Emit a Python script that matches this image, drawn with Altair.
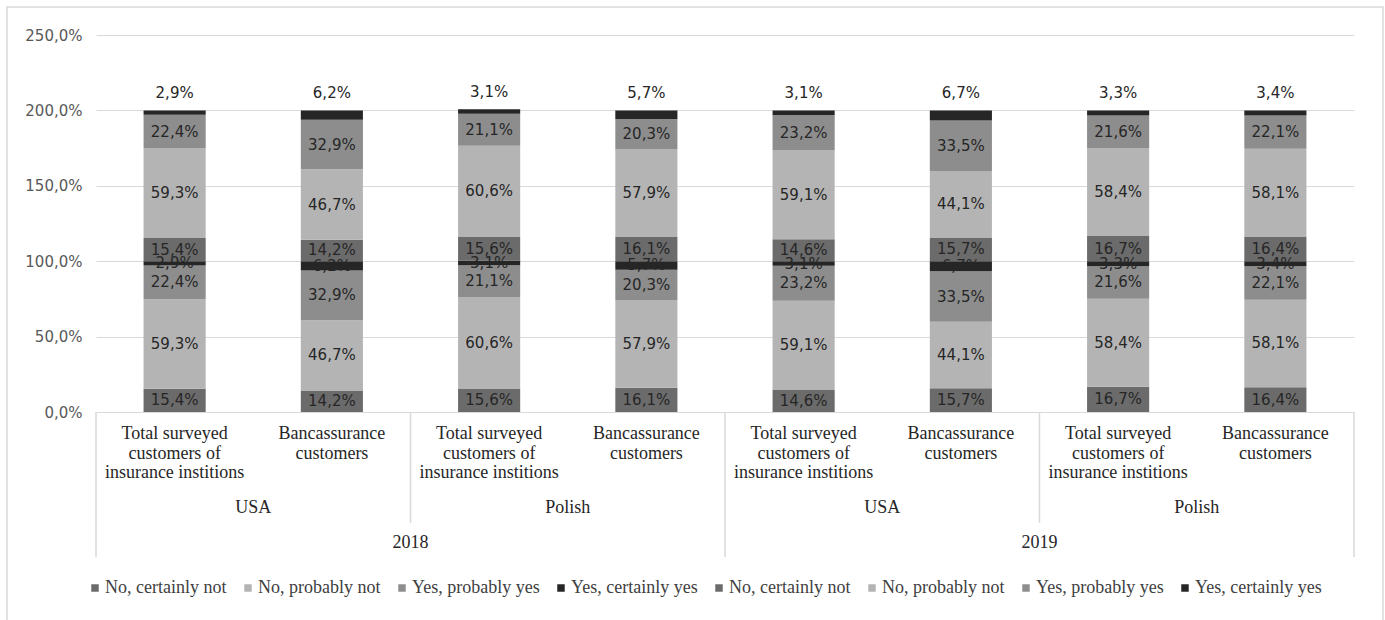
import altair as alt
import pandas as pd

# ---- data ----
bar_ids = ["b1", "b2", "b3", "b4", "b5", "b6", "b7", "b8"]
bar_labels = [
    "Total surveyed\ncustomers of\ninsurance institions",
    "Bancassurance\ncustomers",
    "Total surveyed\ncustomers of\ninsurance institions",
    "Bancassurance\ncustomers",
    "Total surveyed\ncustomers of\ninsurance institions",
    "Bancassurance\ncustomers",
    "Total surveyed\ncustomers of\ninsurance institions",
    "Bancassurance\ncustomers",
]
countries = ["USA", "Polish", "USA", "Polish"]
years = ["2018", "2019"]

series_names = ["No, certainly not", "No, probably not", "Yes, probably yes", "Yes, certainly yes"]
no_certainly = [15.4, 14.2, 15.6, 16.1, 14.6, 15.7, 16.7, 16.4]
no_probably = [59.3, 46.7, 60.6, 57.9, 59.1, 44.1, 58.4, 58.1]
yes_probably = [22.4, 32.9, 21.1, 20.3, 23.2, 33.5, 21.6, 22.1]
yes_certainly = [2.9, 6.2, 3.1, 5.7, 3.1, 6.7, 3.3, 3.4]
series_values = [no_certainly, no_probably, yes_probably, yes_certainly]
colors = ["#6b6b6b", "#b4b4b4", "#8d8d8d", "#262626"]

# ---- long table (two identical series sets stacked, as in the source) ----
rows = []
keys = []
for k in range(2):
    for j, name in enumerate(series_names):
        keys.append(f"{k * 4 + j + 1}|{name}")
for i, b in enumerate(bar_ids):
    for k in range(2):
        for j, name in enumerate(series_names):
            rows.append({
                "bar": b,
                "key": f"{k * 4 + j + 1}|{name}",
                "order": k * 4 + j,
                "value": series_values[j][i],
            })
df = pd.DataFrame(rows)

cat_df = pd.DataFrame({"bar": bar_ids, "label": bar_labels})
country_df = pd.DataFrame({"name": countries, "pos": [2 * i + 1 for i in range(len(countries))]})
year_df = pd.DataFrame({"name": years, "pos": [4 * i + 2 for i in range(len(years))]})
inner_div = pd.DataFrame({"pos": [2, 6]})
outer_div = pd.DataFrame({"pos": [0, 4, 8]})

W, H = 1258, 377
SANS = "DejaVu Sans"
SERIF = "Liberation Serif"
GRID = "#d9d9d9"

band = alt.Scale(domain=bar_ids, paddingInner=0.605, paddingOuter=0.3025)
xq = alt.Scale(domain=[0, 8], nice=False, zero=False)
yscale = alt.Scale(domain=[0, 250], nice=False)

label_expr = "replace(format(datum.value, '.1f'), '.', ',') + '%'"

bars = alt.Chart(df).mark_bar().encode(
    x=alt.X("bar:N", scale=band, axis=None),
    y=alt.Y("value:Q", stack="zero", scale=yscale,
            axis=alt.Axis(values=[0, 50, 100, 150, 200, 250], title=None,
                          labelExpr="replace(format(datum.value, '.1f'), '.', ',') + '%'",
                          grid=True, gridColor=GRID, domain=False, ticks=False,
                          labelFont=SANS, labelFontSize=15, labelColor="#595959",
                          labelPadding=14)),
    color=alt.Color("key:N", scale=alt.Scale(domain=keys, range=colors * 2),
                    legend=alt.Legend(orient="none", legendX=-10, legendY=544,
                                      direction="horizontal", columns=8, title=None,
                                      labelExpr="split(datum.value, '|')[1]",
                                      symbolType="square", symbolSize=56,
                                      symbolStrokeWidth=0, labelFont=SERIF,
                                      labelFontSize=18, labelColor="#404040",
                                      columnPadding=12, labelOffset=1, padding=0)),
    order=alt.Order("order:Q"),
)

stacked = alt.Chart(df).transform_stack(
    stack="value", groupby=["bar"], as_=["y0", "y1"],
    sort=[alt.SortField("order", order="ascending")]
).transform_calculate(
    mid="(datum.y0 + datum.y1) / 2",
    txt=label_expr,
)

inner_labels = stacked.transform_filter("datum.order != 7").mark_text(
    font=SANS, fontSize=15, color="#262626", baseline="middle"
).encode(
    x=alt.X("bar:N", scale=band, axis=None),
    y=alt.Y("mid:Q", scale=yscale),
    text="txt:N",
)

top_labels = stacked.transform_filter("datum.order == 7").mark_text(
    font=SANS, fontSize=15, color="#262626", baseline="middle", dy=-17
).encode(
    x=alt.X("bar:N", scale=band, axis=None),
    y=alt.Y("y1:Q", scale=yscale),
    text="txt:N",
)

cat_text = alt.Chart(cat_df).mark_text(
    font=SERIF, fontSize=18, color="#262626", baseline="top", lineBreak="\n",
    lineHeight=19.5, align="center"
).encode(
    x=alt.X("bar:N", scale=band, axis=None),
    y=alt.value(H + 13),
    text="label:N",
)

country_text = alt.Chart(country_df).mark_text(
    font=SERIF, fontSize=18, color="#262626", baseline="middle"
).encode(
    x=alt.X("pos:Q", scale=xq, axis=None),
    y=alt.value(H + 96),
    text="name:N",
)

year_text = alt.Chart(year_df).mark_text(
    font=SERIF, fontSize=18, color="#262626", baseline="middle"
).encode(
    x=alt.X("pos:Q", scale=xq, axis=None),
    y=alt.value(H + 131),
    text="name:N",
)

inner_rules = alt.Chart(inner_div).mark_rule(color=GRID, strokeWidth=1.5).encode(
    x=alt.X("pos:Q", scale=xq, axis=None),
    y=alt.value(H),
    y2=alt.value(H + 111),
)

outer_rules = alt.Chart(outer_div).mark_rule(color=GRID, strokeWidth=1.5).encode(
    x=alt.X("pos:Q", scale=xq, axis=None),
    y=alt.value(H),
    y2=alt.value(H + 145),
)

frame = alt.Chart(pd.DataFrame({"a": [0]})).mark_rect(
    fill="transparent", stroke=GRID, strokeWidth=1.5
).encode(
    x=alt.value(-89), x2=alt.value(1287), y=alt.value(-28), y2=alt.value(600)
)

chart = alt.layer(
    frame, bars, inner_labels, top_labels, cat_text, country_text, year_text,
    inner_rules, outer_rules
).resolve_scale(x="independent").properties(
    width=W, height=H,
    autosize=alt.AutoSizeParams(type="none"),
    padding={"left": 96, "top": 35, "right": 31, "bottom": 208},
    background="white",
).configure_view(stroke=None)

chart.save("out.html", embed_options={"renderer": "svg", "actions": False})
